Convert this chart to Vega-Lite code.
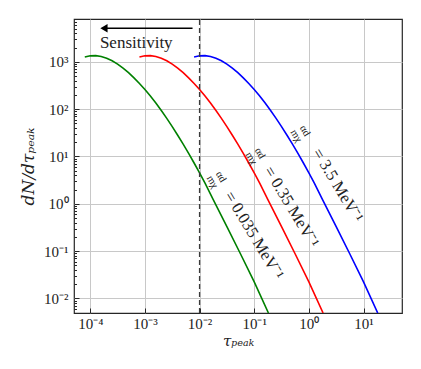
{
  "$schema": "https://vega.github.io/schema/vega-lite/v6.json",
  "width": 328,
  "height": 294,
  "autosize": {"type": "none"},
  "padding": {"left": 74, "top": 19, "right": 19, "bottom": 56},
  "background": "white",
  "config": {
    "view": {"stroke": "#262626", "strokeWidth": 1.2},
    "font": "Liberation Serif"
  },
  "encoding": {
    "x": {
      "field": "x", "type": "quantitative",
      "scale": {"type": "log", "domain": [5.04e-5, 50.6], "nice": false},
      "axis": {
        "values": [0.0001, 0.001, 0.01, 0.1, 1, 10],
        "labelExpr": "['10⁻⁴','10⁻³','10⁻²','10⁻¹','10⁰','10¹'][round(log(datum.value)/LN10)+4]",
        "tickSize": -5, "tickColor": "#262626", "tickWidth": 1,
        "labelPadding": 8, "labelFontSize": 15, "labelColor": "#222", "labelFont": "Liberation Serif",
        "grid": true, "gridColor": "#c8c8c8", "gridWidth": 1,
        "domain": false,
        "title": "τₚₑₐₖ", "titleFont": "DejaVu Serif", "titleFontSize": 15, "titleFontWeight": "normal", "titleFontStyle": "italic", "titleColor": "#222", "titlePadding": 2
      }
    },
    "y": {
      "field": "y", "type": "quantitative",
      "scale": {"type": "log", "domain": [0.00494, 8000], "nice": false},
      "axis": {
        "values": [0.005,0.006,0.007,0.008,0.009,0.01,0.02,0.03,0.04,0.05,0.06,0.07,0.08,0.09,0.1,0.2,0.3,0.4,0.5,0.6,0.7,0.8,0.9,1,2,3,4,5,6,7,8,9,10,20,30,40,50,60,70,80,90,100,200,300,400,500,600,700,800,900,1000,2000,3000,4000,5000,6000,7000],
        "labelExpr": "abs(log(datum.value)/LN10 - round(log(datum.value)/LN10)) < 0.01 ? ['10⁻²','10⁻¹','10⁰','10¹','10²','10³'][round(log(datum.value)/LN10)+2] : ''",
        "tickSize": {"condition": {"test": "abs(log(datum.value)/LN10 - round(log(datum.value)/LN10)) < 0.01", "value": -5}, "value": -2.5},
        "gridOpacity": {"condition": {"test": "abs(log(datum.value)/LN10 - round(log(datum.value)/LN10)) < 0.01", "value": 1}, "value": 0},
        "tickColor": "#262626", "tickWidth": 1,
        "labelPadding": 11, "labelFontSize": 15, "labelColor": "#222", "labelFont": "Liberation Serif",
        "grid": true, "gridColor": "#c8c8c8", "gridWidth": 1,
        "domain": false,
        "title": "dN/dτₚₑₐₖ", "titleFont": "DejaVu Serif", "titleFontSize": 17, "titleFontWeight": "normal", "titleFontStyle": "italic", "titleColor": "#222", "titlePadding": 6
      }
    }
  },
  "layer": [
    {
      "data": {"values": [
        {"s":"g","x":7.94e-5,"y":1259},{"s":"g","x":1.0e-4,"y":1334},{"s":"g","x":1.259e-4,"y":1349},{"s":"g","x":1.585e-4,"y":1294},{"s":"g","x":1.995e-4,"y":1186},{"s":"g","x":2.512e-4,"y":1047},{"s":"g","x":3.162e-4,"y":891},{"s":"g","x":3.981e-4,"y":735},{"s":"g","x":5.012e-4,"y":587},{"s":"g","x":6.31e-4,"y":457},{"s":"g","x":7.943e-4,"y":347},{"s":"g","x":1.0e-3,"y":260},{"s":"g","x":1.259e-3,"y":190},{"s":"g","x":1.585e-3,"y":135},{"s":"g","x":1.995e-3,"y":93.8},{"s":"g","x":2.512e-3,"y":63.8},{"s":"g","x":3.162e-3,"y":42.7},{"s":"g","x":3.981e-3,"y":28.0},{"s":"g","x":5.012e-3,"y":18.2},{"s":"g","x":6.31e-3,"y":11.6},{"s":"g","x":7.943e-3,"y":7.28},{"s":"g","x":1.0e-2,"y":4.49},{"s":"g","x":1.259e-2,"y":2.72},{"s":"g","x":1.778e-2,"y":1.23},{"s":"g","x":3.162e-2,"y":0.331},{"s":"g","x":5.623e-2,"y":0.0871},{"s":"g","x":0.1,"y":0.0224},{"s":"g","x":0.182,"y":0.00494},
        {"s":"r","x":7.94e-4,"y":1259},{"s":"r","x":1.0e-3,"y":1334},{"s":"r","x":1.259e-3,"y":1349},{"s":"r","x":1.585e-3,"y":1294},{"s":"r","x":1.995e-3,"y":1186},{"s":"r","x":2.512e-3,"y":1047},{"s":"r","x":3.162e-3,"y":891},{"s":"r","x":3.981e-3,"y":735},{"s":"r","x":5.012e-3,"y":587},{"s":"r","x":6.31e-3,"y":457},{"s":"r","x":7.943e-3,"y":347},{"s":"r","x":1.0e-2,"y":260},{"s":"r","x":1.259e-2,"y":190},{"s":"r","x":1.585e-2,"y":135},{"s":"r","x":1.995e-2,"y":93.8},{"s":"r","x":2.512e-2,"y":63.8},{"s":"r","x":3.162e-2,"y":42.7},{"s":"r","x":3.981e-2,"y":28.0},{"s":"r","x":5.012e-2,"y":18.2},{"s":"r","x":6.31e-2,"y":11.6},{"s":"r","x":7.943e-2,"y":7.28},{"s":"r","x":0.1,"y":4.49},{"s":"r","x":0.1259,"y":2.72},{"s":"r","x":0.1778,"y":1.23},{"s":"r","x":0.3162,"y":0.331},{"s":"r","x":0.5623,"y":0.0871},{"s":"r","x":1.0,"y":0.0224},{"s":"r","x":1.82,"y":0.00494},
        {"s":"b","x":7.94e-3,"y":1259},{"s":"b","x":1.0e-2,"y":1334},{"s":"b","x":1.259e-2,"y":1349},{"s":"b","x":1.585e-2,"y":1294},{"s":"b","x":1.995e-2,"y":1186},{"s":"b","x":2.512e-2,"y":1047},{"s":"b","x":3.162e-2,"y":891},{"s":"b","x":3.981e-2,"y":735},{"s":"b","x":5.012e-2,"y":587},{"s":"b","x":6.31e-2,"y":457},{"s":"b","x":7.943e-2,"y":347},{"s":"b","x":0.1,"y":260},{"s":"b","x":0.1259,"y":190},{"s":"b","x":0.1585,"y":135},{"s":"b","x":0.1995,"y":93.8},{"s":"b","x":0.2512,"y":63.8},{"s":"b","x":0.3162,"y":42.7},{"s":"b","x":0.3981,"y":28.0},{"s":"b","x":0.5012,"y":18.2},{"s":"b","x":0.631,"y":11.6},{"s":"b","x":0.7943,"y":7.28},{"s":"b","x":1.0,"y":4.49},{"s":"b","x":1.259,"y":2.72},{"s":"b","x":1.778,"y":1.23},{"s":"b","x":3.162,"y":0.331},{"s":"b","x":5.623,"y":0.0871},{"s":"b","x":10.0,"y":0.0224},{"s":"b","x":18.2,"y":0.00494}
      ]},
      "mark": {"type": "line", "strokeWidth": 1.6, "clip": true},
      "encoding": {
        "color": {"field": "s", "type": "nominal", "scale": {"domain": ["g","r","b"], "range": ["#008000","#ff0000","#0000ff"]}, "legend": null}
      }
    },
    {
      "data": {"values": [{"x": 0.01, "y": 0.00494, "y2": 8000}]},
      "mark": {"type": "rule", "strokeDash": [5, 3], "color": "#3a3a3a", "strokeWidth": 1.3},
      "encoding": {"y2": {"field": "y2"}}
    },
    {
      "data": {"values": [{"x": 0.00744, "x2": 0.00018, "y": 5093}]},
      "mark": {"type": "rule", "color": "black", "strokeWidth": 1.5},
      "encoding": {"x2": {"field": "x2"}}
    },
    {
      "data": {"values": [{"x": 0.000178, "y": 5093}]},
      "mark": {"type": "point", "shape": "triangle-left", "filled": true, "color": "black", "size": 70, "opacity": 1}
    },
    {
      "data": {"values": [{"x": 0.000150, "y": 1928, "t": "Sensitivity"}]},
      "mark": {"type": "text", "align": "left", "baseline": "alphabetic", "fontSize": 17, "font": "Liberation Serif", "color": "#222"},
      "encoding": {"text": {"field": "t"}}
    },
    {
      "data": {"values": [
        {"x": 0.02449, "y": 3.71, "t": "αd\nmχ"},
        {"x": 0.1265, "y": 11.7, "t": "αd\nmχ"},
        {"x": 0.841, "y": 34.7, "t": "αd\nmχ"}
      ]},
      "mark": {"type": "text", "align": "center", "baseline": "middle", "angle": 59, "fontSize": 10.5, "lineHeight": 10, "lineBreak": "\n", "font": "Liberation Serif", "color": "#222"},
      "encoding": {"text": {"field": "t"}}
    },
    {
      "data": {"values": [
        {"x": 0.03365, "y": 1.706, "t": "= 0.035 MeV⁻¹"},
        {"x": 0.1774, "y": 5.75, "t": "= 0.35 MeV⁻¹"},
        {"x": 1.365, "y": 13.8, "t": "= 3.5 MeV⁻¹"}
      ]},
      "mark": {"type": "text", "align": "left", "baseline": "middle", "angle": 59, "fontSize": 16.5, "font": "Liberation Serif", "color": "#222"},
      "encoding": {"text": {"field": "t"}}
    }
  ]
}
